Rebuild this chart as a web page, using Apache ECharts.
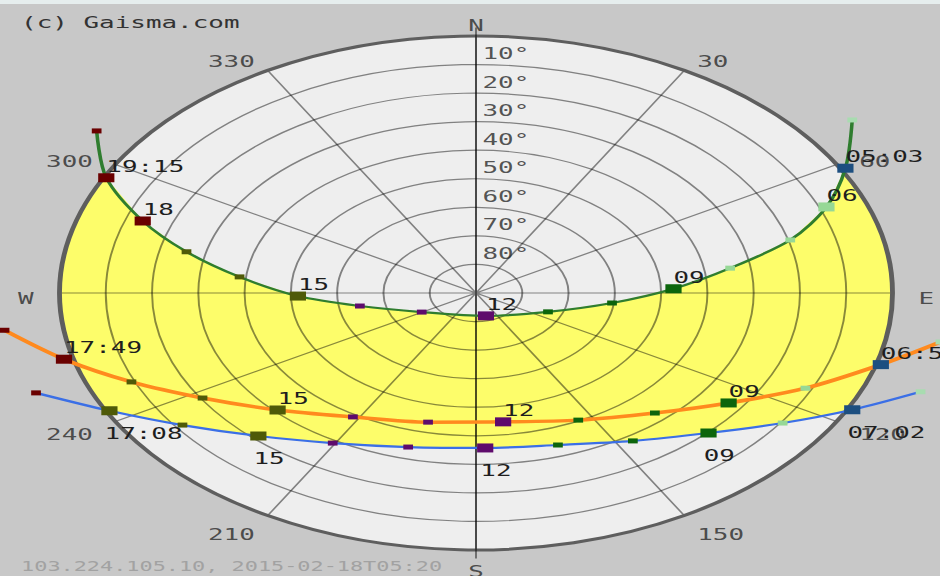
<!DOCTYPE html>
<html>
<head>
<meta charset="utf-8">
<script src="https://cdn.jsdelivr.net/npm/echarts@6/dist/echarts.min.js"></script>
<style>
  html, body { margin: 0; padding: 0; background: #e6eeee; overflow: hidden; }
  /* the original sun path chart is a circle stretched sideways, so draw a circle and stretch it */
  #main { width: 580px; height: 572px; margin-top: 4px; transform: scaleX(1.6207); transform-origin: 0 0; }
</style>
</head>
<body>
<div id="main"></div>
<script>
// sun positions: azimuth (deg, from N clockwise), altitude (deg)
// '' = tail below the horizon, 'hh:mm' = sunrise / sunset
const summerTime = ['', '05:03', '06', '07', '08', '09', '10', '11', '12', '13', '14', '15', '16', '17', '18', '19:15', ''];
const summerAz = [53.3, 61.3, 68.3, 74.7, 81, 88, 96.8, 113, 165, 240.3, 259.7, 268.4, 276.3, 283, 289.3, 296.8, 304.7];
const summerAlt = [-11.4, -1, 8.5, 19.6, 34.4, 47.3, 60.4, 73.1, 81.7, 76.5, 64.5, 51.5, 38.6, 25.8, 13.7, 0.5, -9.7];

const todayTime = ['', '06:58', '08', '09', '10', '11', '12', '13', '14', '15', '16', '17', '17:49', ''];
const todayAz = [99.7, 106, 115.1, 125.2, 137.4, 153.6, 172.6, 192.9, 211.5, 226.3, 238.1, 247.3, 255.4, 262.7];
const todayAlt = [-11.8, -1, 11.4, 23.2, 32.9, 40.3, 44.5, 43.6, 39.1, 30.7, 20.4, 9.3, -2, -12.7];

const winterTime = ['', '07:02', '08', '09', '10', '11', '12', '13', '14', '15', '16', '17:08', ''];
const winterAz = [109.8, 116.7, 124.5, 134.3, 146.8, 161.6, 177.9, 195.2, 210.5, 223.2, 233.9, 242.5, 249.8];
const winterAlt = [-12.1, -1, 9.6, 19.8, 28.1, 33.9, 35.7, 34.1, 29, 21.3, 11.5, 0.7, -11.3];

const altTicks = [10, 20, 30, 40, 50, 60, 70, 80];
const azTicks = [0, 30, 60, 90, 120, 150, 180, 210, 240, 270, 300, 330];
const azTickLabels = ['N', '30', '60', 'E', '120', '150', 'S', '210', '240', 'W', '300', '330'];
const azLabelAlt = -5.6;    // compass labels sit just outside the horizon
const meridianAlt = -3;     // the N-S line pokes a little past the horizon

const mono = "'DejaVu Sans Mono', monospace";
const gridLine = {color: 'rgba(0,0,0,0.46)', width: 1.2};

function hourColor(h) {
  if (h < 9) return '#96d896';
  if (h < 12) return '#0c650c';
  if (h < 15) return '#5e0b6c';
  if (h < 18) return '#4f5a08';
  return '#6a0000';
}

function markerColor(t, i) {
  if (t === '') return i === 0 ? '#a8dcb0' : '#6a0000';
  if (t.includes(':')) {
    if (i === 1) return '#1d4f80';
    return hourColor(Math.round(parseInt(t, 10) + parseInt(t.slice(3), 10) / 60));
  }
  return hourColor(parseInt(t, 10));
}

function pathSeries(name, time, az, alt, color, width, below) {
  return {
    name: name,
    type: 'line',
    coordinateSystem: 'polar',
    polarIndex: 1,
    smooth: 0.3,
    z: 3,
    silent: true,
    lineStyle: {color: color, width: width},
    label: {
      position: below ? [2, 19] : [5, 1],
      align: 'left',
      verticalAlign: below ? 'top' : 'bottom',
      fontFamily: mono,
      fontSize: 16,
      color: '#1e1e1e'
    },
    data: time.map((t, i) => {
      const key = t.includes(':') || (t !== '' && parseInt(t, 10) % 3 === 0);
      return {
        value: [alt[i], az[i]],
        symbol: 'rect',
        symbolSize: key ? [10, 9] : [6, 5],
        itemStyle: {color: markerColor(t, i)},
        label: {show: key, formatter: t}
      };
    })
  };
}

const chart = echarts.init(document.getElementById('main'), null, {renderer: 'svg'});

const option = {
  animation: false,
  backgroundColor: '#c8c8c8',
  title: [
    {
      text: '(c) Gaisma.com', left: 13, top: 10, padding: 0,
      textStyle: {fontFamily: mono, fontSize: 16, fontWeight: 'normal', color: '#333'}
    },
    {
      text: '103.224.105.10, 2015-02-18T05:20', left: 13, top: 555, padding: 0,
      textStyle: {fontFamily: mono, fontSize: 13.5, fontWeight: 'normal', color: '#a2a2a2'}
    }
  ],
  // polar 0: the sky dome grid, horizon to zenith
  // polar 1: same centre, reaches 30 deg below the horizon so the paths are not cut at the rim
  polar: [
    {center: [293.7, 289], radius: 257},
    {center: [293.7, 289], radius: 257 * 120 / 90}
  ],
  angleAxis: [
    {
      polarIndex: 0,
      type: 'value',
      min: 0,
      max: 360,
      interval: 30,
      startAngle: 90,
      clockwise: true,
      axisLine: {lineStyle: {color: '#5e5e5e', width: 3}},
      axisTick: {show: false},
      axisLabel: {show: false},
      splitLine: {lineStyle: gridLine}
    },
    {
      polarIndex: 1,
      type: 'value',
      min: 0,
      max: 360,
      startAngle: 90,
      clockwise: true,
      show: false,
      splitLine: {show: false}
    }
  ],
  radiusAxis: [
    {
      polarIndex: 0,
      type: 'value',
      min: 0,
      max: 90,
      interval: 10,
      inverse: true,
      axisLine: {show: false},
      axisTick: {show: false},
      axisLabel: {show: false},
      splitLine: {lineStyle: gridLine}
    },
    {
      polarIndex: 1,
      type: 'value',
      min: -30,
      max: 90,
      inverse: true,
      show: false,
      splitLine: {show: false}
    }
  ],
  series: [
    {
      name: 'sky',
      type: 'custom',
      coordinateSystem: 'polar',
      polarIndex: 0,
      z: -1,
      silent: true,
      data: [[0, 0]],
      renderItem: function (params, api) {
        const cs = params.coordSys;
        const pt = (a, z) => api.coord([a, z]).slice(0, 2);
        const points = [];
        for (let i = 1; i < summerTime.length - 1; i++) points.push(pt(summerAlt[i], summerAz[i]));
        for (let a = summerAz[summerAz.length - 2]; a > winterAz[winterAz.length - 2]; a -= 2) points.push(pt(0, a));
        for (let i = winterTime.length - 2; i >= 1; i--) points.push(pt(winterAlt[i], winterAz[i]));
        for (let a = winterAz[1]; a > summerAz[1]; a -= 2) points.push(pt(0, a));
        return {
          type: 'group',
          children: [
            {type: 'circle', shape: {cx: cs.cx, cy: cs.cy, r: cs.r}, style: {fill: '#eeeeee'}},
            {type: 'polygon', shape: {points: points}, style: {fill: '#fdfd6a'}}
          ]
        };
      }
    },
    {
      name: 'meridian',
      type: 'line',
      coordinateSystem: 'polar',
      polarIndex: 1,
      silent: true,
      symbol: 'none',
      z: 1,
      lineStyle: gridLine,
      data: [[meridianAlt, 0], [90, 0], [meridianAlt, 180]]
    },
    {
      name: 'altitude',
      type: 'scatter',
      coordinateSystem: 'polar',
      polarIndex: 0,
      silent: true,
      symbolSize: 0,
      z: 4,
      data: altTicks.map(a => [a, 0]),
      label: {
        show: true,
        position: [4, -3],
        align: 'left',
        verticalAlign: 'bottom',
        fontFamily: mono,
        fontSize: 16,
        color: '#2a2a2a',
        formatter: p => altTicks[p.dataIndex] + '°'
      }
    },
    {
      name: 'compass',
      type: 'scatter',
      coordinateSystem: 'polar',
      polarIndex: 1,
      silent: true,
      symbolSize: 0,
      z: 4,
      data: azTicks.map(a => {
        const s = Math.sin(a * Math.PI / 180);
        return {
          value: [azLabelAlt, a],
          label: {align: Math.abs(s) < 0.3 ? 'center' : (s > 0 ? 'left' : 'right')}
        };
      }),
      label: {
        show: true,
        position: 'inside',
        offset: [0, 5],
        verticalAlign: 'middle',
        fontFamily: mono,
        fontSize: 16,
        color: '#2a2a2a',
        formatter: p => azTickLabels[p.dataIndex]
      }
    },
    pathSeries('winter', winterTime, winterAz, winterAlt, '#3b6fe6', 2.2, true),
    pathSeries('today', todayTime, todayAz, todayAlt, '#ff8a1e', 3.5, false),
    pathSeries('summer', summerTime, summerAz, summerAlt, '#2f7d2f', 2.2, false)
  ]
};

chart.setOption(option);
</script>
</body>
</html>
